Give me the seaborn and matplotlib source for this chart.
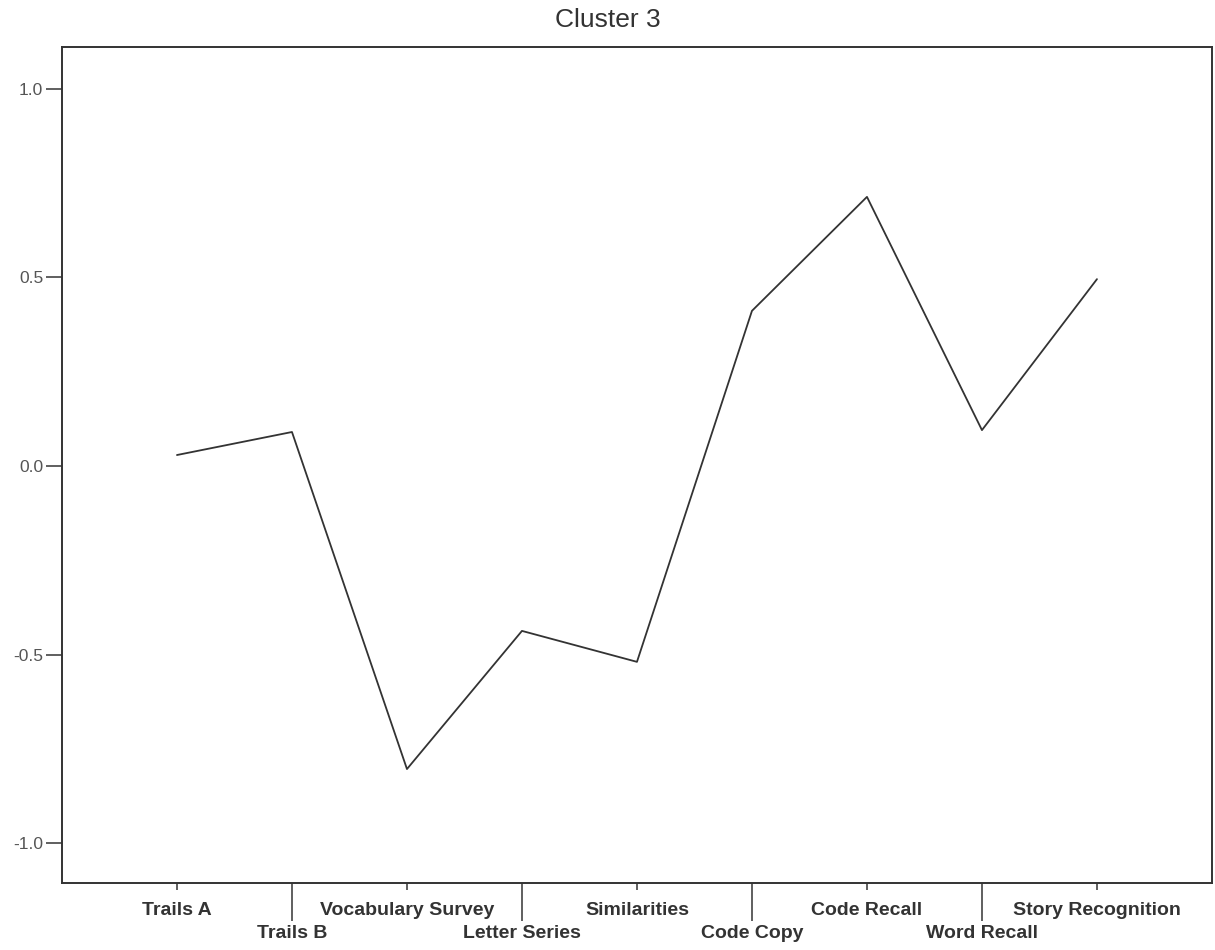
import matplotlib
matplotlib.use("Agg")
import matplotlib.pyplot as plt
import numpy as np
import pandas as pd
import seaborn as sns

tests = ["Trails A", "Trails B", "Vocabulary Survey", "Letter Series", "Similarities",
         "Code Copy", "Code Recall", "Word Recall", "Story Recognition"]
scores = [0.029, 0.090, -0.803, -0.437, -0.519, 0.411, 0.713, 0.095, 0.495]
y_ticks = [-1.0, -0.5, 0.0, 0.5, 1.0]

sns.set_style("white")
plt.rcParams['font.family'] = ['Liberation Sans', 'DejaVu Sans']

df = pd.DataFrame({"pos": np.arange(len(tests)), "score": scores})

fig = plt.figure(figsize=(12.15, 9.5), dpi=100)
ax = fig.add_axes([0.051, 0.0705, 0.9465, 0.88])

sns.lineplot(data=df, x="pos", y="score", color="#333333", linewidth=1.3, ax=ax)

ax.set_xlim(-1, 9)
ax.set_ylim(-1.105, 1.11)
ax.set_yticks(y_ticks)
ax.set_yticklabels([f"{v:.1f}" for v in y_ticks])

# staggered category labels: even positions short ticks, odd positions long ticks
even = df["pos"][::2].tolist()
odd = df["pos"][1::2].tolist()
ax.set_xticks(even)
ax.set_xticklabels(tests[::2])
ax.set_xticks(odd, minor=True)
ax.set_xticklabels(tests[1::2], minor=True)

ax.tick_params(axis="x", which="major", length=5, width=1.2, color="#444444",
               pad=9, labelsize=14, labelcolor="#333333")
ax.tick_params(axis="x", which="minor", length=27, width=1.2, color="#444444",
               pad=3, labelsize=14, labelcolor="#333333")
ax.tick_params(axis="y", length=11.5, width=1.2, color="#444444", pad=2,
               labelsize=12.5, labelcolor="#555555", left=True)
ax.tick_params(axis="x", bottom=True, which="both")
for lab in ax.get_xticklabels(which="both"):
    lab.set_fontweight("bold")

for sp in ax.spines.values():
    sp.set_color("#333333")
    sp.set_linewidth(1.4)

ax.set_xlabel("")
ax.set_ylabel("")
fig.text(608 / 1215, 1 - 20 / 950, "Cluster 3", fontsize=19, color="#333333",
         ha="center", va="center")

fig.savefig("out.png", dpi=100)
